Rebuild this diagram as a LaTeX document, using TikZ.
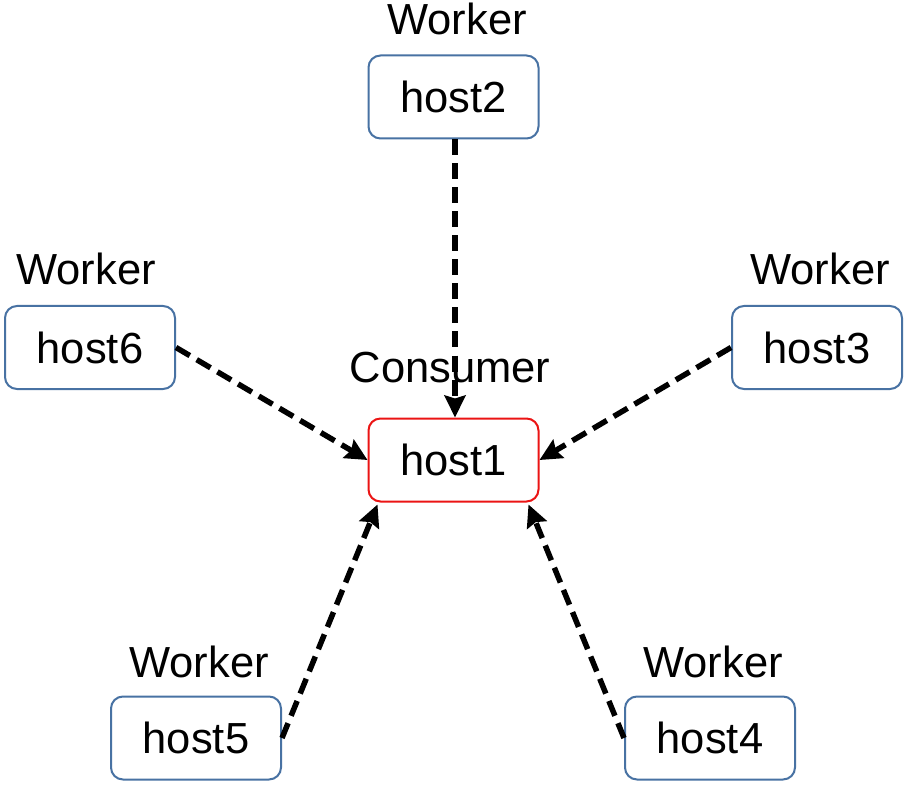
\documentclass[tikz,border=0pt]{standalone}
\usepackage{fontspec}
\setmainfont{Liberation Sans}
\usetikzlibrary{arrows.meta}
\definecolor{wblue}{RGB}{72,114,163}
\definecolor{cred}{RGB}{235,20,20}
\tikzset{
  hostbox/.style={draw=wblue, line width=2pt, rounded corners=12pt, minimum width=170pt, minimum height=83pt, fill=white, inner sep=0pt},
  consbox/.style={hostbox, draw=cred},
  role/.style={anchor=base, inner sep=0pt},
  flow/.style={line width=5.5pt, dash pattern=on 16pt off 8pt, -{Stealth[length=22pt,width=21pt,inset=3pt]}}
}
\begin{document}
\begin{tikzpicture}[x=1pt,y=-1pt, font=\fontsize{43.5}{50}\selectfont]
\useasboundingbox (0,0) rectangle (907,791);
\node[hostbox] (host2) at (453.5,97) {host2};
\node[hostbox] (host6) at (90,347.5) {host6};
\node[hostbox] (host3) at (817,347.5) {host3};
\node[consbox] (host1) at (453.5,460) {host1};
\node[hostbox] (host5) at (196,738) {host5};
\node[hostbox] (host4) at (710,738) {host4};
\node[role] (w2) at (457,35) {Worker};
\node[role] (w6) at (86,285) {Worker};
\node[role] (w3) at (820,285) {Worker};
\node[role] (w5) at (199,677) {Worker};
\node[role] (w4) at (713,677) {Worker};
\node[role] (cons) at (450,382) {Consumer};
\coordinate (t5) at ([xshift=10pt,yshift=-2pt]host1.south west);
\coordinate (t4) at ([xshift=-11pt,yshift=-2pt]host1.south east);
\draw[flow] ([xshift=1.5pt]host2.south) -- ([xshift=1.5pt]host1.north);
\draw[flow] (host6.east) -- (host1.west);
\draw[flow] (host3.west) -- (host1.east);
\draw[flow] (host5.east) -- (t5);
\draw[flow] (host4.west) -- (t4);
\end{tikzpicture}
\end{document}
